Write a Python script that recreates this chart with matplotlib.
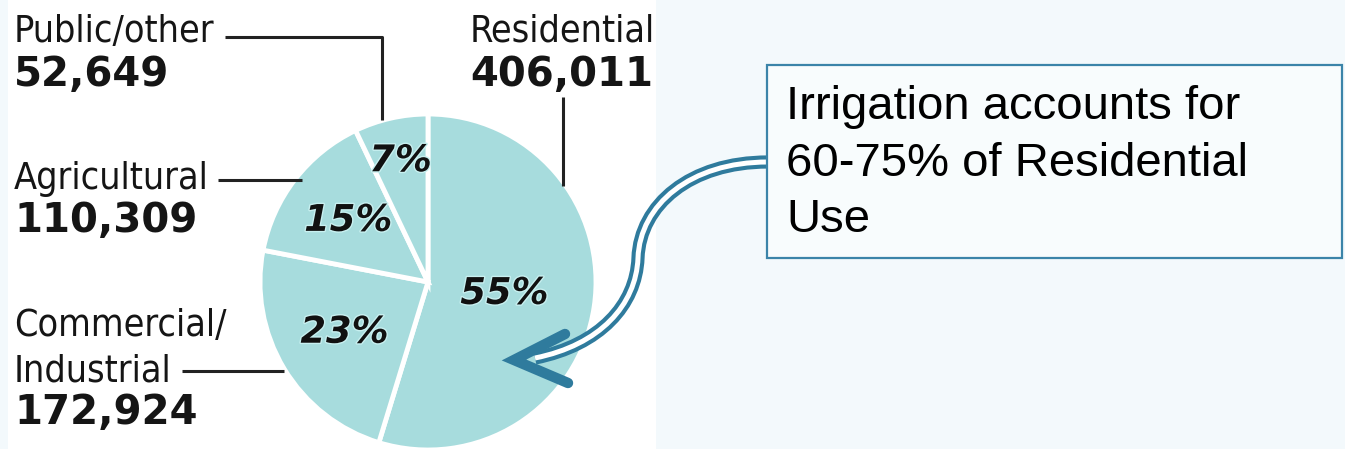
import matplotlib
matplotlib.use("Agg")
import matplotlib.pyplot as plt
import numpy as np
from matplotlib.patches import Rectangle, PathPatch
from matplotlib.path import Path
import matplotlib.patheffects as pe

# data
categories = ["Residential", "Commercial/\nIndustrial", "Agricultural", "Public/other"]
values = [406011, 172924, 110309, 52649]
pct_labels = ["55%", "23%", "15%", "7%"]
note = "Irrigation accounts for\n60-75% of Residential\nUse"

W, H = 1345, 449
PIE_COLOR = "#a7dcdd"
ARROW_COLOR = "#2f7b9d"


def Y(y):
    # image pixel row -> data y (y axis points up)
    return H - y


fig = plt.figure(figsize=(W / 100, H / 100), dpi=100)
fig.patch.set_facecolor("#f3f9fc")
ax = fig.add_axes([0, 0, 1, 1])

# white panel behind the pie graphic
ax.add_patch(Rectangle((8, 0), 648, H, facecolor="white", edgecolor="none", zorder=0))

cx, cy, r = 428, Y(282), 168
wedges, _ = ax.pie(
    values,
    center=(cx, cy),
    radius=r,
    startangle=90,
    counterclock=False,
    colors=[PIE_COLOR] * len(values),
    wedgeprops=dict(edgecolor="white", linewidth=3.5),
)
ax.set_xlim(0, W)
ax.set_ylim(0, H)
ax.set_aspect("equal")
ax.axis("off")

# percentage labels at each wedge's middle angle
pct_dist = [0.46, 0.58, 0.60, 0.74]
for w, lab, d in zip(wedges, pct_labels, pct_dist):
    ang = np.deg2rad((w.theta1 + w.theta2) / 2)
    ax.text(cx + d * r * np.cos(ang), cy + d * r * np.sin(ang), lab,
            ha="center", va="center", fontsize=26.5, fontweight="bold",
            fontstyle="italic", family="DejaVu Sans", color="#111111",
            path_effects=[pe.withStroke(linewidth=2, foreground="#c8f0f0")])

# category labels with values
lab_kw = dict(family="DejaVu Sans", fontstretch="condensed", fontsize=27,
              color="#151515", va="baseline", ha="left")
num_kw = dict(family="DejaVu Sans", fontsize=29, fontweight="bold",
              color="#151515", va="baseline", ha="left")
pos = {
    "Public/other": (14, 42, 86),
    "Residential": (470, 42, 86),
    "Agricultural": (14, 189, 232),
}
for name, val in zip(categories, values):
    if name in pos:
        x, y1, y2 = pos[name]
        ax.text(x, Y(y1), name, **lab_kw)
        ax.text(x, Y(y2), f"{val:,}", **num_kw)
ax.text(14, Y(336), "Commercial/", **lab_kw)
ax.text(14, Y(382), "Industrial", **lab_kw)
ax.text(14, Y(424), f"{values[1]:,}", **num_kw)

# leader lines
line_kw = dict(color="#222222", linewidth=2.2, solid_capstyle="butt")
ax.plot([225, 382, 382], [Y(37), Y(37), Y(120)], **line_kw)
ax.plot([563, 563], [Y(97), Y(186)], **line_kw)
ax.plot([218, 302], [Y(180), Y(180)], **line_kw)
ax.plot([182, 284], [Y(371), Y(371)], **line_kw)

# callout box
ax.add_patch(Rectangle((767, Y(258)), 575, 193, facecolor="#f8fcfd",
                       edgecolor="#3b84a9", linewidth=1.6, zorder=3))
ax.text(786, Y(85), note, family="Liberation Sans", fontsize=34,
        ha="left", va="top", linespacing=1.37, color="black", zorder=4)

# double-line curved arrow from the box to the residential wedge
verts = [(768, Y(162)), (690, Y(162)), (640, Y(205)), (638, Y(258)),
         (636, Y(305)), (600, Y(345)), (535, Y(358))]
codes = [Path.MOVETO] + [Path.CURVE4] * 6
shaft = Path(verts, codes)
ax.add_patch(PathPatch(shaft, facecolor="none", edgecolor=ARROW_COLOR,
                       linewidth=9.5, capstyle="butt", zorder=2))
ax.add_patch(PathPatch(shaft, facecolor="none", edgecolor="white",
                       linewidth=3.6, capstyle="butt", zorder=2))
ax.plot([565, 514, 568], [Y(334), Y(360), Y(383)], color=ARROW_COLOR,
        linewidth=7.5, solid_capstyle="round", solid_joinstyle="miter", zorder=2)

fig.savefig("out.png", dpi=100, facecolor=fig.get_facecolor())
